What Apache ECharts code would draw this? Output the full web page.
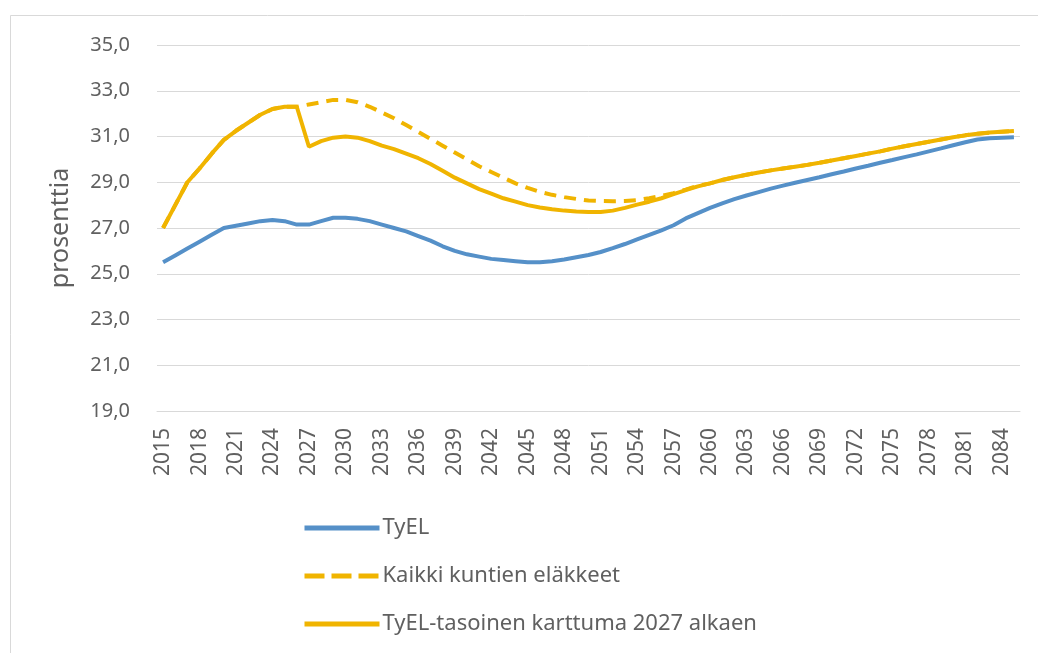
<!DOCTYPE html>
<html lang="fi">
<head>
    <meta charset="UTF-8">
    <title>Maksutaso</title>
    <script type="text/javascript" src="https://cdn.jsdelivr.net/npm/echarts@6/dist/echarts.min.js"></script>
    <style>
        html, body { margin: 0; padding: 0; background: #fff; }
    </style>
</head>
<body>
<div id="chart" style="width: 1038px;height:653px;"></div>
<script type="text/javascript">

    // vuodet 2015-2085
    const years = [];
    for (let y = 2015; y <= 2085; y++) years.push(String(y));

    const tyel = [
        25.5, 25.8, 26.1, 26.4, 26.7, 27.0, 27.1, 27.2, 27.3, 27.35,
        27.3, 27.15, 27.15, 27.3, 27.45, 27.45, 27.4, 27.3, 27.15, 27.0,
        26.85, 26.65, 26.45, 26.2, 26.0, 25.85, 25.75, 25.65, 25.6, 25.55,
        25.5, 25.5, 25.55, 25.62, 25.72, 25.82, 25.95, 26.12, 26.3, 26.5,
        26.7, 26.9, 27.12, 27.42, 27.65, 27.88, 28.08, 28.26, 28.42, 28.57,
        28.72, 28.85, 28.98, 29.1, 29.22, 29.35, 29.47, 29.6, 29.72, 29.85,
        29.97, 30.1, 30.22, 30.35, 30.48, 30.62, 30.75, 30.87, 30.92, 30.95,
        30.97
    ];

    const kaikki = [
        27.0, 28.0, 29.0, 29.6, 30.25, 30.85, 31.25, 31.6, 31.95, 32.2,
        32.3, 32.3, 32.4, 32.5, 32.6, 32.6, 32.5, 32.3, 32.05, 31.8,
        31.5, 31.2, 30.9, 30.6, 30.3, 30.0, 29.7, 29.45, 29.2, 28.95,
        28.75, 28.58, 28.45, 28.35, 28.27, 28.2, 28.18, 28.17, 28.18, 28.22,
        28.3, 28.4, 28.52, 28.68, 28.85, 28.95, 29.1, 29.22, 29.33, 29.43,
        29.52, 29.6, 29.68, 29.76, 29.85, 29.95, 30.05, 30.15, 30.25, 30.35,
        30.47, 30.57, 30.67, 30.77, 30.87, 30.97, 31.05, 31.12, 31.17, 31.21,
        31.24
    ];

    const karttuma = [
        27.0, 28.0, 29.0, 29.6, 30.25, 30.85, 31.25, 31.6, 31.95, 32.2,
        32.3, 32.3, 30.55, 30.8, 30.95, 31.0, 30.95, 30.8, 30.6, 30.45,
        30.25, 30.05, 29.8, 29.5, 29.2, 28.95, 28.7, 28.5, 28.3, 28.15,
        28.0, 27.9, 27.82, 27.76, 27.72, 27.7, 27.7, 27.76, 27.88, 28.02,
        28.15, 28.3, 28.48, 28.66, 28.82, 28.95, 29.1, 29.22, 29.33, 29.43,
        29.52, 29.6, 29.68, 29.76, 29.85, 29.95, 30.05, 30.15, 30.25, 30.35,
        30.47, 30.57, 30.67, 30.77, 30.87, 30.97, 31.05, 31.12, 31.17, 31.21,
        31.24
    ];

    const seriesNames = ['TyEL', 'Kaikki kuntien eläkkeet', 'TyEL-tasoinen karttuma 2027 alkaen'];

    const BLUE = '#5590c8';
    const GOLD = '#f0b400';
    const TEXT = '#606060';
    const FONT = 'Noto Sans';

    let option = {
        animation: false,
        backgroundColor: '#fff',
        graphic: [{
            type: 'rect',
            left: 8,
            top: 13,
            shape: {width: 1100, height: 700},
            style: {fill: 'none', stroke: '#d9d9d9', lineWidth: 1},
            silent: true
        }],
        grid: {
            left: 157,
            right: 18,
            top: 45,
            bottom: 242
        },
        legend: {
            orient: 'vertical',
            left: 297,
            top: 512,
            itemWidth: 75,
            itemHeight: 14,
            itemGap: 26,
            data: [
                {name: seriesNames[0]},
                {name: seriesNames[1], lineStyle: {type: [20, 7]}},
                {name: seriesNames[2]}
            ],
            itemStyle: {opacity: 0},
            lineStyle: {width: 5},
            textStyle: {color: TEXT, fontSize: 22, fontFamily: FONT, padding: [0, 0, 0, -2]}
        },
        xAxis: {
            type: 'category',
            data: years,
            boundaryGap: true,
            axisLine: {lineStyle: {color: '#d9d9d9', width: 1}},
            axisTick: {show: false},
            axisLabel: {
                interval: 2,
                rotate: 90,
                margin: 17,
                color: TEXT,
                fontSize: 21,
                fontFamily: FONT
            }
        },
        yAxis: {
            type: 'value',
            min: 19,
            max: 35,
            interval: 2,
            name: 'prosenttia',
            nameLocation: 'middle',
            nameRotate: 90,
            nameGap: 84,
            nameTextStyle: {color: TEXT, fontSize: 25, fontFamily: FONT},
            axisLine: {show: false},
            axisTick: {show: false},
            splitLine: {lineStyle: {color: '#d9d9d9', width: 1}},
            axisLabel: {
                margin: 27,
                color: TEXT,
                fontSize: 20,
                fontFamily: FONT,
                formatter: function (v) {
                    return v.toFixed(1).replace('.', ',');
                }
            }
        },
        series: [
            {
                name: seriesNames[0],
                type: 'line',
                symbol: 'none',
                data: tyel,
                lineStyle: {color: BLUE, width: 4},
                itemStyle: {color: BLUE}
            },
            {
                name: seriesNames[1],
                type: 'line',
                symbol: 'none',
                data: kaikki,
                lineStyle: {color: GOLD, width: 4, type: [12, 8]},
                itemStyle: {color: GOLD}
            },
            {
                name: seriesNames[2],
                type: 'line',
                symbol: 'none',
                data: karttuma,
                lineStyle: {color: GOLD, width: 4},
                itemStyle: {color: GOLD}
            }
        ]
    };

    echarts.init(document.getElementById('chart')).setOption(option);
</script>
</body>
</html>
